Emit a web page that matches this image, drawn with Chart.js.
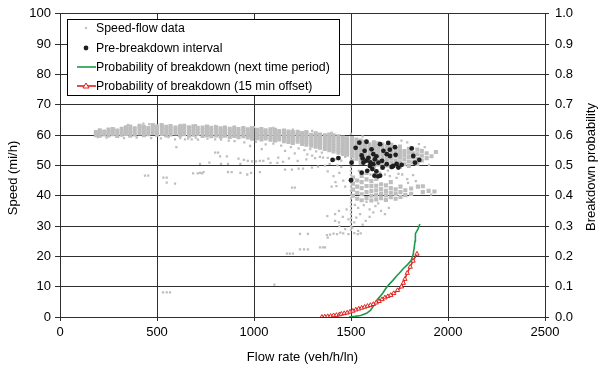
<!DOCTYPE html>
<html><head><meta charset="utf-8">
<script src="https://cdn.jsdelivr.net/npm/chart.js@4/dist/chart.umd.min.js"></script>
<style>html,body{margin:0;padding:0;background:#fff}</style>
</head><body>
<canvas id="c" width="600" height="370"></canvas>
<script>
// ---- data: [flow (veh/h/ln), speed (mi/h)] ----
const speedFlowCore = [
[185,60.0],[185,61.0],[205,59.8],[205,60.9],[205,61.6],[228,60.2],[228,61.2],[250,59.9],[250,60.8],[250,61.8],
[272,60.3],[272,61.3],[272,62.0],[295,59.7],[295,60.6],[295,61.5],[318,60.1],[318,61.0],[318,62.1],[340,60.4],[340,61.4],[340,62.6],
[362,59.8],[362,60.7],[362,61.7],[362,62.8],[385,60.2],[385,61.1],[385,62.2],[410,60.5],[410,61.5],[410,62.5],[410,63.1],
[432,60.0],[432,61.0],[432,61.9],[432,62.7],[455,60.3],[455,61.3],[455,62.3],[478,60.6],[478,61.6],[478,62.6],[478,63.3],
[500,60.1],[500,61.0],[500,62.0],[500,62.9],[525,60.4],[525,61.4],[525,62.4],[525,63.2],[548,59.9],[548,60.8],[548,61.8],[548,62.7],
[570,60.2],[570,61.2],[570,62.1],[570,63.0],[595,60.5],[595,61.5],[595,62.5],[618,60.0],[618,60.9],[618,61.9],[618,62.8],
[640,60.3],[640,61.3],[640,62.3],[640,63.1],[665,59.8],[665,60.7],[665,61.7],[665,62.6],[688,60.1],[688,61.1],[688,62.0],[688,62.9],
[710,60.4],[710,61.4],[710,62.4],[735,59.7],[735,60.6],[735,61.6],[735,62.5],[758,60.0],[758,61.0],[758,61.9],[758,62.8],
[780,59.6],[780,60.5],[780,61.5],[780,62.4],[805,59.9],[805,60.8],[805,61.8],[805,62.6],[828,59.5],[828,60.4],[828,61.3],[828,62.2],
[850,59.8],[850,60.7],[850,61.7],[850,62.5],[875,59.4],[875,60.3],[875,61.2],[875,62.1],[898,59.7],[898,60.6],[898,61.6],[898,62.4],
[920,59.3],[920,60.2],[920,61.1],[920,62.0],[945,59.6],[945,60.5],[945,61.5],[945,62.3],[968,59.2],[968,60.1],[968,61.0],[968,61.9],
[990,58.8],[990,59.7],[990,60.6],[990,61.5],[990,62.2],[1015,59.0],[1015,59.9],[1015,60.8],[1015,61.7],
[1038,58.6],[1038,59.5],[1038,60.4],[1038,61.3],[1038,62.0],[1060,58.9],[1060,59.8],[1060,60.7],[1060,61.6],
[1085,58.5],[1085,59.4],[1085,60.3],[1085,61.2],[1085,61.9],[1108,58.2],[1108,59.1],[1108,60.0],[1108,60.9],[1108,61.7],
[1130,58.6],[1130,59.5],[1130,60.4],[1130,61.3],[1155,58.0],[1155,58.9],[1155,59.8],[1155,60.7],[1155,61.5],
[1178,57.7],[1178,58.6],[1178,59.5],[1178,60.4],[1178,61.2],[1200,57.4],[1200,58.3],[1200,59.2],[1200,60.1],[1200,61.0],
[1225,57.8],[1225,58.7],[1225,59.6],[1225,60.5],[1225,61.1],[1248,57.1],[1248,58.0],[1248,58.9],[1248,59.8],[1248,60.7],
[1270,56.8],[1270,57.7],[1270,58.6],[1270,59.5],[1270,60.4],[1270,61.0],[1295,56.5],[1295,57.4],[1295,58.3],[1295,59.2],[1295,60.1],
[1318,56.2],[1318,57.1],[1318,58.0],[1318,58.9],[1318,59.8],[1318,60.6],[1340,55.8],[1340,56.7],[1340,57.6],[1340,58.5],[1340,59.4],[1340,60.2],
[1365,55.4],[1365,56.3],[1365,57.2],[1365,58.1],[1365,59.0],[1365,59.9],[1388,55.0],[1388,55.9],[1388,56.8],[1388,57.7],[1388,58.6],[1388,59.5],[1388,60.2],
[1410,54.6],[1410,55.5],[1410,56.4],[1410,57.3],[1410,58.2],[1410,59.1],[1410,59.9],[1435,54.2],[1435,55.1],[1435,56.0],[1435,56.9],[1435,57.8],[1435,58.7],[1435,59.6],
[1458,53.8],[1458,54.7],[1458,55.6],[1458,56.5],[1458,57.4],[1458,58.3],[1458,59.2],[1480,53.5],[1480,54.4],[1480,55.3],[1480,56.2],[1480,57.1],[1480,58.0],[1480,58.9],
[1505,51.5],[1505,53.0],[1505,54.0],[1505,55.0],[1505,56.0],[1505,57.0],[1505,58.0],[1505,59.0],
[1528,52.2],[1528,53.4],[1528,54.5],[1528,55.5],[1528,56.5],[1528,57.5],[1528,58.5],
[1550,50.8],[1550,52.0],[1550,53.1],[1550,54.2],[1550,55.2],[1550,56.2],[1550,57.2],[1550,58.2],
[1572,51.4],[1572,52.6],[1572,53.7],[1572,54.8],[1572,55.8],[1572,56.8],[1572,57.8],
[1595,50.2],[1595,51.5],[1595,52.7],[1595,53.9],[1595,55.0],[1595,56.0],[1595,57.0],
[1618,49.6],[1618,51.0],[1618,52.3],[1618,53.5],[1618,54.6],[1618,55.7],[1618,56.7],[1618,57.6],
[1640,50.3],[1640,51.7],[1640,53.0],[1640,54.2],[1640,55.3],[1640,56.4],[1640,57.3],
[1662,49.2],[1662,50.7],[1662,52.1],[1662,53.4],[1662,54.6],[1662,55.8],[1662,56.9],
[1685,50.0],[1685,51.5],[1685,52.8],[1685,54.0],[1685,55.2],[1685,56.3],
[1708,49.4],[1708,50.9],[1708,52.3],[1708,53.6],[1708,54.8],[1708,55.9],[1708,56.8],
[1730,50.1],[1730,51.6],[1730,53.0],[1730,54.3],[1730,55.5],[1752,49.5],[1752,51.0],[1752,52.5],[1752,53.8],[1752,55.0],[1752,56.2],
[1775,50.4],[1775,52.0],[1775,53.4],[1775,54.7],[1798,49.8],[1798,51.3],[1798,52.8],[1798,54.2],[1798,55.5],
[1820,51.0],[1820,52.6],[1820,54.0],[1842,50.5],[1842,52.2],[1842,53.7],[1842,55.2],[1865,51.6],[1865,53.2],[1865,54.7],
[1890,52.4],[1890,54.0],[1915,53.0],[1938,54.4],
[1510,40.0],[1510,42.0],[1510,44.0],[1510,46.0],[1532,39.0],[1532,41.0],[1532,43.0],[1532,45.0],
[1555,38.5],[1555,40.5],[1555,42.5],[1555,44.5],[1555,46.5],[1580,39.2],[1580,41.2],[1580,43.2],[1580,45.4],[1580,47.5],
[1605,38.4],[1605,40.0],[1605,41.6],[1605,43.2],[1605,44.8],[1630,38.8],[1630,40.3],[1630,41.8],[1630,43.3],[1630,45.5],
[1655,39.2],[1655,40.7],[1655,42.2],[1655,43.8],[1680,38.6],[1680,40.1],[1680,41.6],[1680,43.4],
[1705,39.5],[1705,41.0],[1705,42.5],[1705,44.5],[1730,39.0],[1730,40.6],[1730,42.1],[1755,39.6],[1755,41.2],[1755,43.0],
[1780,40.2],[1780,41.8],[1810,40.6],[1810,42.4],[1845,43.0],[1870,41.2],[1870,43.1],[1900,41.6],[1930,41.4]
];
const speedFlowSparse = [
[593,58.6],[644,58.6],[679,58.6],[711,58.5],[600,56.0],[438,46.6],[455,46.6],[533,46.0],[550,46.0],[550,44.3],[593,44.0],
[686,47.4],[710,47.4],[732,47.4],[800,54.2],[815,54.2],[825,53.0],[860,53.0],[920,52.2],[948,51.8],[968,51.5],[990,51.3],
[1010,51.3],[1030,51.5],[1048,51.5],[1074,52.2],[1125,52.6],[1180,52.3],[1225,51.5],[1270,52.0],[1315,52.4],[1356,52.6],
[722,50.5],[770,50.9],[830,50.5],[866,50.5],[930,50.5],[1085,50.8],[1120,50.8],[1150,51.2],
[722,47.5],[740,47.8],[866,47.8],[885,47.8],[930,47.5],[965,47.0],[985,47.5],[1030,47.8],
[1160,48.6],[1195,48.6],[1230,48.9],[1253,48.9],[1299,49.3],[1330,49.6],[1366,49.9],[1196,42.7],[1211,42.7],[1400,43.0],[1425,43.2],
[1010,57.8],[1060,56.9],[1100,57.2],[1140,56.5],[1190,56.0],[1230,55.6],[1260,55.0],[1290,55.4],[1320,54.6],[1350,54.2],
[1040,55.4],[1160,54.8],[1210,54.0],[1275,53.6],[950,57.6],[900,58.0],[980,56.4],[870,58.2],[1300,53.2],[1340,52.8],
[1380,52.5],[1420,52.0],[1450,51.6],[1470,52.8],
[330,59.0],[395,59.2],[470,59.0],[520,58.9],[560,59.3],[620,59.0],[660,58.8],[700,59.2],[240,59.2],[195,59.3],[760,58.8],[800,58.6],[830,58.5],
[350,63.4],[430,63.8],[460,63.6],[520,63.6],[620,63.4],[700,63.3],[800,63.0],[900,62.8],[1000,62.6],[1100,62.4],[1200,61.8],
[1300,61.4],[1400,60.8],[1500,60.4],[1560,59.6],
[1105,10.7],[531,8.1],[550,8.1],[567,8.1],
[1170,20.9],[1185,20.9],[1201,20.9],[1237,22.3],[1258,22.3],[1278,22.3],[1340,23.0],[1355,23.0],[1366,23.0],
[1237,27.4],[1278,27.4],[1376,27.0],[1392,27.2],[1410,27.5],[1428,27.3],[1445,27.8],[1460,27.6],[1487,27.3],[1517,27.7],
[1535,27.3],[1550,27.6],[1380,26.2],
[1378,33.3],[1418,33.9],[1438,35.0],[1477,35.5],[1537,36.0],[1566,36.9],[1596,35.5],[1626,36.6],[1655,35.0],[1675,33.9],
[1547,33.9],[1576,31.7],[1517,31.2],[1487,32.2],[1438,31.2],[1418,31.7],[1695,36.0],[1596,33.0],[1527,32.8],[1458,33.0],
[1507,29.5],[1537,28.4],[1560,30.5],[1615,34.5],[1640,37.5],[1580,38.0],[1520,37.0],[1470,29.0],[1440,30.0],
[1380,48.0],[1410,46.5],[1440,47.5],[1460,45.0],[1420,44.5],[1450,49.5],[1390,50.5],[1470,43.0],[1430,50.0],
[1863,55.1],[1893,52.4],[1933,54.4],[1903,50.2],[1843,43.1],[1873,43.1],[1873,41.3],[1933,41.5],[1913,40.4],
[1735,45.9],[1794,44.2],[1764,47.0],[1834,44.8],[1675,47.0],[1880,56.0],[1850,57.0],[1790,57.6],[1760,58.2],
[1540,48.2],[1600,47.0],[1650,47.6],[1700,46.5],[1745,47.2],[1790,45.5],[1820,46.8],[1690,48.3],
[1500,49.5],[1500,48.2],[1500,46.9],[1500,45.6],[1500,44.3],[1500,43.0],[1500,41.7],[1500,40.4],[1500,39.1],[1500,37.8],
[1500,36.5],[1500,35.2],[1500,33.9],[1500,32.6],[1500,31.3],[1500,30.0],[1500,28.7]
];
const preBreakdown = [
[1405,51.8],[1435,52.4],[1503,50.9],[1500,45.1],[1524,55.8],[1543,57.5],[1580,57.8],[1555,53.3],[1560,52.3],[1564,50.9],
[1580,51.6],[1555,47.6],[1584,48.2],[1598,49.8],[1606,55.3],[1615,53.7],[1623,52.0],[1631,53.0],[1615,50.4],[1641,50.9],
[1621,46.6],[1650,46.6],[1631,48.0],[1650,57.0],[1667,54.8],[1663,49.3],[1684,53.7],[1701,53.1],[1684,50.4],[1692,57.4],
[1727,56.0],[1710,49.5],[1718,49.8],[1744,49.3],[1761,50.2],[1735,50.5],[1813,55.6],[1821,53.1],[1830,50.9],[1852,51.8],
[1590,52.5],[1600,51.0],[1640,46.4],[1700,55.2],[1730,53.5],[1660,51.5],[1570,54.8],[1610,48.8]
];
// [flow, breakdown probability]
const probNextPeriod = [
[1490,0],[1520,0.002],[1550,0.005],[1580,0.012],[1600,0.022],[1620,0.04],[1635,0.057],[1650,0.068],[1665,0.08],[1680,0.095],
[1700,0.11],[1715,0.12],[1735,0.135],[1750,0.145],[1770,0.16],[1790,0.172],[1810,0.186],[1820,0.205],[1826,0.23],[1830,0.25],
[1832,0.275],[1845,0.29],[1855,0.307]
];
const prob15MinOffset = [
[1350,0],[1365,0.001],[1380,0.002],[1395,0.003],[1410,0.005],[1425,0.006],[1440,0.008],[1450,0.01],[1465,0.012],[1480,0.014],
[1495,0.017],[1510,0.02],[1525,0.024],[1540,0.027],[1555,0.03],[1570,0.033],[1585,0.036],[1600,0.039],[1615,0.042],[1630,0.047],
[1645,0.052],[1660,0.058],[1675,0.064],[1690,0.068],[1705,0.072],[1720,0.078],[1740,0.088],[1760,0.1],[1770,0.112],[1778,0.125],
[1790,0.145],[1805,0.165],[1820,0.185],[1840,0.208]
];
const seriesLabels = ['Speed-flow data','Pre-breakdown interval','Probability of breakdown (next time period)','Probability of breakdown (15 min offset)'];
const xTitle = 'Flow rate (veh/h/ln)';
const yTitle = 'Speed (mi/h)';
const y2Title = 'Breakdown probability';

const FONT = "'Liberation Sans', Arial, sans-serif";
const GRAY = '#bebebe', GREEN = '#1f9a4a', RED = '#e0201c', GRID = '#2e2e2e';
const toXY = a => a.map(p => ({x: p[0], y: p[1]}));

const overlay = {
  id: 'overlay',
  afterDraw(chart) {
    const ctx = chart.ctx;
    ctx.save();
    ctx.fillStyle = '#000';
    ctx.font = '13px ' + FONT;
    ctx.textAlign = 'center'; ctx.textBaseline = 'middle';
    ctx.save(); ctx.translate(13, 178); ctx.rotate(-Math.PI/2); ctx.fillText(yTitle, 0, 0); ctx.restore();
    ctx.save(); ctx.translate(591, 167); ctx.rotate(-Math.PI/2); ctx.fillText(y2Title, 0, 0); ctx.restore();
    ctx.fillStyle = '#fff'; ctx.fillRect(67.5, 19.5, 272, 76);
    ctx.strokeStyle = '#000'; ctx.lineWidth = 1; ctx.strokeRect(67.5, 19.5, 272, 76);
    const rows = [28, 48, 67, 86];
    ctx.font = '12.3px ' + FONT; ctx.textAlign = 'left'; ctx.fillStyle = '#000';
    seriesLabels.forEach((t, i) => ctx.fillText(t, 96, rows[i] + 0.5));
    ctx.fillStyle = GRAY; ctx.fillRect(85, rows[0] - 1, 2, 2);
    ctx.fillStyle = '#1e1e1e'; ctx.beginPath(); ctx.arc(86, rows[1], 2.4, 0, Math.PI*2); ctx.fill();
    ctx.lineWidth = 1.6;
    ctx.strokeStyle = GREEN; ctx.beginPath(); ctx.moveTo(77, rows[2]); ctx.lineTo(96, rows[2]); ctx.stroke();
    ctx.strokeStyle = RED; ctx.beginPath(); ctx.moveTo(77, rows[3]); ctx.lineTo(96, rows[3]); ctx.stroke();
    ctx.lineWidth = 1; ctx.fillStyle = '#fff';
    ctx.beginPath(); ctx.moveTo(86, rows[3] - 3); ctx.lineTo(89, rows[3] + 2); ctx.lineTo(83, rows[3] + 2); ctx.closePath(); ctx.fill(); ctx.stroke();
    ctx.restore();
  }
};

const tickFont = {family: FONT, size: 13};
new Chart(document.getElementById('c'), {
  type: 'scatter',
  data: {
    datasets: [
      {label: seriesLabels[3], data: toXY(prob15MinOffset), yAxisID: 'y2', showLine: true, borderColor: RED, borderWidth: 1.5,
        pointStyle: 'triangle', pointRadius: 2.5, pointBorderWidth: 1, pointBorderColor: RED, pointBackgroundColor: '#fff', order: 1},
      {label: seriesLabels[2], data: toXY(probNextPeriod), yAxisID: 'y2', showLine: true, borderColor: GREEN, borderWidth: 1.6,
        pointRadius: 0, order: 2},
      {label: seriesLabels[1], data: toXY(preBreakdown), yAxisID: 'y', pointRadius: 2.4, pointBorderWidth: 0,
        pointBackgroundColor: '#1e1e1e', order: 3},
      {label: seriesLabels[0], data: toXY(speedFlowSparse), yAxisID: 'y', pointStyle: 'rect', pointRadius: 1.6, pointBorderWidth: 0,
        pointBackgroundColor: GRAY, order: 4},
      {label: seriesLabels[0], data: toXY(speedFlowCore), yAxisID: 'y', pointStyle: 'rect', pointRadius: 2.9, pointBorderWidth: 0,
        pointBackgroundColor: GRAY, order: 5}
    ]
  },
  options: {
    responsive: false, animation: false, devicePixelRatio: 1,
    layout: {padding: {top: 12, left: 0, right: 0, bottom: 0}},
    plugins: {legend: {display: false}, tooltip: {enabled: false}},
    scales: {
      x: {type: 'linear', min: 0, max: 2500,
        ticks: {stepSize: 500, font: tickFont, color: '#000', padding: 4, maxRotation: 0, callback: v => String(v)},
        grid: {color: GRID, lineWidth: 1, tickLength: 4, tickColor: GRID},
        border: {color: GRID},
        title: {display: true, text: xTitle, font: tickFont, color: '#000', padding: {top: 0, bottom: 5}},
        afterFit: s => { s.height = 53; }},
      y: {position: 'left', min: 0, max: 100,
        ticks: {stepSize: 10, font: tickFont, color: '#000', padding: 4, callback: v => String(v)},
        grid: {color: GRID, lineWidth: 1, tickLength: 5, tickColor: GRID},
        border: {color: GRID},
        afterFit: s => { s.width = 60; }},
      y2: {position: 'right', min: 0, max: 1,
        ticks: {stepSize: 0.1, font: tickFont, color: '#000', padding: 6, callback: v => v.toFixed(1)},
        grid: {drawOnChartArea: false, tickLength: 4, tickColor: GRID},
        border: {color: GRID},
        afterFit: s => { s.width = 55; }}
    }
  },
  plugins: [overlay]
});
</script>
</body></html>
